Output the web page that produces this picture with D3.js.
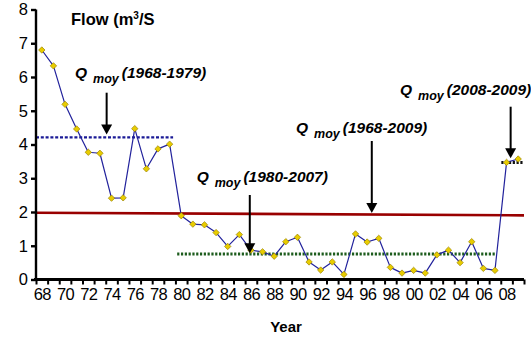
<!DOCTYPE html>
<html>
<head>
<meta charset="utf-8">
<script src="https://cdn.jsdelivr.net/npm/d3@7"></script>
<style>
  body { margin: 0; background: #fff; }
  svg { display: block; font-family: Arial, "Liberation Sans", sans-serif; }
</style>
</head>
<body>
<svg id="chart" width="531" height="339"></svg>
<script>
// annual mean flow, 1968-2009
const years = d3.range(1968, 2010);
const flow = [
  6.80, 6.33, 5.19, 4.46, 3.77, 3.74, 2.41, 2.42, 4.47, 3.28,
  3.87, 4.01, 1.89, 1.64, 1.62, 1.39, 0.98, 1.33, 0.87, 0.82,
  0.69, 1.12, 1.25, 0.52, 0.28, 0.52, 0.15, 1.35, 1.11, 1.22,
  0.36, 0.19, 0.27, 0.19, 0.73, 0.87, 0.50, 1.12, 0.33, 0.27,
  3.47, 3.57
];
const yTicks = [0, 1, 2, 3, 4, 5, 6, 7, 8];
const xLabelYears = d3.range(1968, 2010, 2);

// period means: [start, end, value]
const meanEarly = [1967.5, 1979.3, 4.21];
const meanMid = [1979.65, 2007.0, 0.755];
const meanLate = [2007.55, 2009.4, 3.47];
// overall mean line (slight slope as drawn): [start, end, v0, v1]
const meanAll = [1967.5, 2009.5, 1.98, 1.90];

// annotation labels and arrow anchors (year, tip value)
const annoLabels = ["(1968-1979)", "(1980-2007)", "(1968-2009)", "(2008-2009)"];
const annoYears = [1973.58, 1985.9, 1996.4, 2008.35];
const annoTips = [4.30, 0.78, 1.97, 3.59];

const width = 531, height = 339;
const margin = { top: 9.5, bottom: 59.5, left: 36, right: 7 };

const svg = d3.select("#chart");

const x = d3.scaleLinear()
    .domain([1967.5, 2009.5])
    .range([margin.left, width - margin.right]);

const y = d3.scaleLinear()
    .domain([0, 8])
    .range([height - margin.bottom, margin.top]);

// overall mean (red)
svg.append("line")
    .attr("x1", x(meanAll[0])).attr("x2", x(meanAll[1]))
    .attr("y1", y(meanAll[2])).attr("y2", y(meanAll[3]))
    .attr("stroke", "#990000")
    .attr("stroke-width", 2.6);

// period means
const periods = [
  { d: meanEarly, color: "#1a1a96", dash: "3,1.8", w: 2.4 },
  { d: meanMid, color: "#1d5c1d", dash: "2.2,1.6", w: 3 },
  { d: meanLate, color: "#111", dash: "2.2,1.6", w: 3 }
];
svg.append("g")
    .selectAll("line")
    .data(periods)
    .join("line")
    .attr("x1", p => x(p.d[0]))
    .attr("x2", p => x(p.d[1]))
    .attr("y1", p => y(p.d[2]))
    .attr("y2", p => y(p.d[2]))
    .attr("stroke", p => p.color)
    .attr("stroke-width", p => p.w)
    .attr("stroke-dasharray", p => p.dash);

// flow series
const line = d3.line()
    .x((d, i) => x(years[i]))
    .y(d => y(d));

svg.append("path")
    .datum(flow)
    .attr("fill", "none")
    .attr("stroke", "#22229c")
    .attr("stroke-width", 1.2)
    .attr("stroke-linejoin", "round")
    .attr("d", line);

// square diamond markers
const diamond = "M0,-3.2L3.2,0L0,3.2L-3.2,0Z";
svg.append("g")
    .selectAll("path")
    .data(flow)
    .join("path")
    .attr("transform", (d, i) => `translate(${x(years[i])},${y(d)})`)
    .attr("d", diamond)
    .attr("fill", "#e8cc00")
    .attr("stroke", "#9a8200")
    .attr("stroke-width", 0.7);

// y axis
svg.append("g")
    .attr("transform", `translate(${margin.left},0)`)
    .call(d3.axisLeft(y).tickValues(yTicks).tickSize(5).tickPadding(3).tickFormat(d3.format("d")))
    .call(g => g.selectAll("path, line").attr("stroke", "#000").attr("stroke-width", 2.4))
    .call(g => g.select(".domain").attr("d", `M0,${y(8)}V${y(0)}`))
    .call(g => g.selectAll("text")
        .attr("font-size", 16.5)
        .attr("font-family", "Arial, 'Liberation Sans', sans-serif")
        .attr("fill", "#000"));

// x axis: boundary ticks
svg.append("g")
    .attr("transform", `translate(0,${y(0)})`)
    .call(d3.axisBottom(x).tickValues(d3.range(1967.5, 2010, 1)).tickSize(5).tickFormat(""))
    .call(g => g.selectAll("line").attr("stroke", "#000").attr("stroke-width", 2))
    .call(g => g.select(".domain").attr("stroke", "#000").attr("stroke-width", 3)
        .attr("d", `M${margin.left - 2},0H${width - margin.right}`));

// x axis: labels every other year
svg.append("g")
    .attr("transform", `translate(0,${y(0)})`)
    .call(d3.axisBottom(x).tickValues(xLabelYears).tickSize(0).tickPadding(9)
        .tickFormat(d => String(d % 100).padStart(2, "0")))
    .call(g => g.select(".domain").remove())
    .call(g => g.selectAll("text")
        .attr("font-size", 16.5)
        .attr("letter-spacing", -0.7)
        .attr("font-family", "Arial, 'Liberation Sans', sans-serif")
        .attr("fill", "#000"));

// axis titles
svg.append("text")
    .attr("x", 286).attr("y", 332)
    .attr("text-anchor", "middle")
    .attr("font-size", 15).attr("font-weight", "bold")
    .text("Year");

const ytitle = svg.append("text")
    .attr("x", 71).attr("y", 25)
    .attr("font-size", 16.5).attr("font-weight", "bold");
ytitle.append("tspan").text("Flow (m");
ytitle.append("tspan").attr("font-size", 10).attr("dy", -6).text("3");
ytitle.append("tspan").attr("dy", 6).text("/S");

// annotations
const annoPos = [
  { tx: 75, ty: 78.3, top: 92.7 },
  { tx: 196.7, ty: 181.7, top: 195 },
  { tx: 296, ty: 133, top: 141 },
  { tx: 400, ty: 95, top: 106.7 }
];

annoLabels.forEach((lab, i) => {
  const p = annoPos[i];
  const t = svg.append("text")
      .attr("x", p.tx).attr("y", p.ty)
      .attr("font-size", 15.5).attr("font-weight", "bold").attr("font-style", "italic");
  t.append("tspan").text("Q");
  t.append("tspan").attr("dx", 6).attr("dy", 5).attr("font-size", 12.5).text("moy");
  t.append("tspan").attr("dx", 3).attr("dy", -5).text(lab);

  const ax = x(annoYears[i]), tip = y(annoTips[i]);
  svg.append("line")
      .attr("x1", ax).attr("x2", ax)
      .attr("y1", p.top).attr("y2", tip - 8)
      .attr("stroke", "#000").attr("stroke-width", 2);
  svg.append("path")
      .attr("d", `M${ax - 5.5},${tip - 10}L${ax + 5.5},${tip - 10}L${ax},${tip}Z`)
      .attr("fill", "#000");
});
</script>
</body>
</html>
